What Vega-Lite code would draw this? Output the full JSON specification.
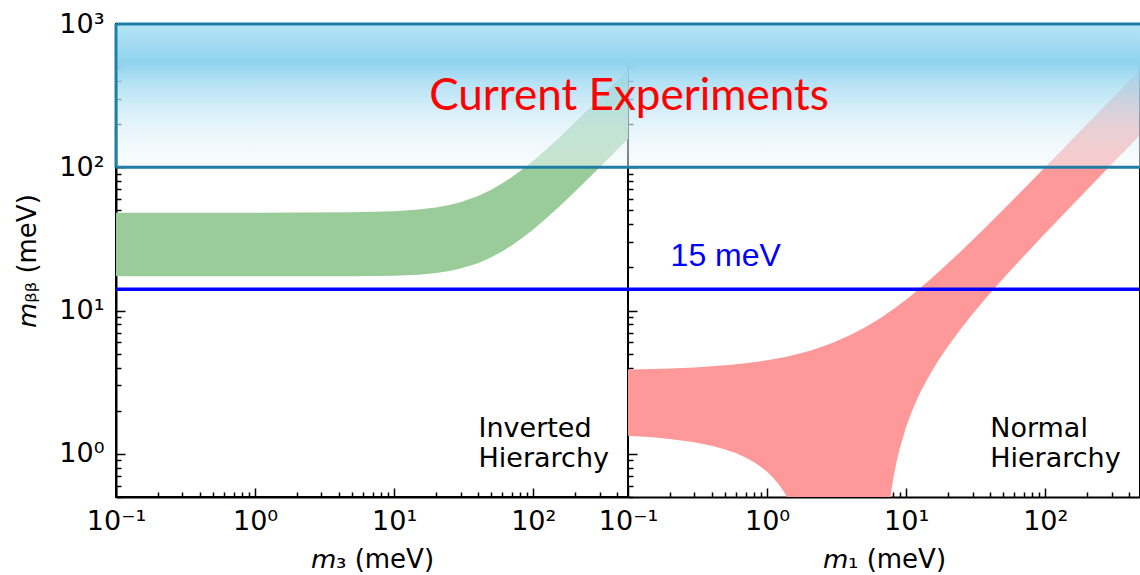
{
  "$schema": "https://vega.github.io/schema/vega-lite/v6.json",
  "padding": {"left": 13, "top": 9, "right": 0, "bottom": 0},
  "spacing": 0,
  "bounds": "flush",
  "config": {
    "view": {"stroke": "black", "strokeWidth": 2},
    "axis": {
      "labelFont": "DejaVu Sans", "labelFontSize": 27, "labelColor": "black",
      "titleFont": "DejaVu Sans", "titleFontSize": 26, "titleFontWeight": "normal", "titleColor": "black",
      "domainColor": "black", "domainWidth": 2, "tickColor": "black", "tickWidth": 1.5,
      "grid": false, "labelOverlap": false, "labelFlush": false, "labelBound": false
    }
  },
  "datasets": {
    "ih": [
      {"m3": 0.1, "lo": 17.39, "hi": 48.21},
      {"m3": 1, "lo": 17.37, "hi": 48.25},
      {"m3": 5, "lo": 17.36, "hi": 48.58},
      {"m3": 10, "lo": 17.5, "hi": 49.43},
      {"m3": 15, "lo": 17.81, "hi": 50.75},
      {"m3": 20, "lo": 18.28, "hi": 52.5},
      {"m3": 25, "lo": 18.89, "hi": 54.64},
      {"m3": 30, "lo": 19.63, "hi": 57.13},
      {"m3": 40, "lo": 21.41, "hi": 63.0},
      {"m3": 50, "lo": 23.54, "hi": 69.8},
      {"m3": 60, "lo": 25.92, "hi": 77.29},
      {"m3": 70, "lo": 28.48, "hi": 85.3},
      {"m3": 80, "lo": 31.18, "hi": 93.69},
      {"m3": 100, "lo": 36.86, "hi": 111.26},
      {"m3": 120, "lo": 42.8, "hi": 129.54},
      {"m3": 150, "lo": 51.99, "hi": 157.73},
      {"m3": 200, "lo": 67.72, "hi": 205.87},
      {"m3": 250, "lo": 83.7, "hi": 254.71},
      {"m3": 300, "lo": 99.82, "hi": 303.94},
      {"m3": 400, "lo": 132.27, "hi": 402.97},
      {"m3": 480, "lo": 158.33, "hi": 482.47}
    ],
    "nh": [
      {"m1": 0.1, "lo": 1.339, "hi": 3.874},
      {"m1": 0.15, "lo": 1.306, "hi": 3.908},
      {"m1": 0.2, "lo": 1.272, "hi": 3.942},
      {"m1": 0.3, "lo": 1.206, "hi": 4.011},
      {"m1": 0.4, "lo": 1.14, "hi": 4.08},
      {"m1": 0.5, "lo": 1.074, "hi": 4.149},
      {"m1": 0.6, "lo": 1.008, "hi": 4.218},
      {"m1": 0.7, "lo": 0.943, "hi": 4.288},
      {"m1": 0.8, "lo": 0.878, "hi": 4.358},
      {"m1": 0.9, "lo": 0.813, "hi": 4.428},
      {"m1": 1.0, "lo": 0.749, "hi": 4.499},
      {"m1": 1.1, "lo": 0.685, "hi": 4.57},
      {"m1": 1.2, "lo": 0.622, "hi": 4.642},
      {"m1": 1.3, "lo": 0.558, "hi": 4.714},
      {"m1": 1.4, "lo": 0.495, "hi": 4.786},
      {"m1": 1.5, "lo": 0.433, "hi": 4.859},
      {"m1": 1.6, "lo": 0.37, "hi": 4.932},
      {"m1": 1.8, "lo": 0.247, "hi": 5.078},
      {"m1": 2, "lo": 0.124, "hi": 5.226},
      {"m1": 2.2, "lo": 0.1, "hi": 5.376},
      {"m1": 3, "lo": 0.1, "hi": 5.986},
      {"m1": 4, "lo": 0.1, "hi": 6.775},
      {"m1": 5, "lo": 0.1, "hi": 7.591},
      {"m1": 6, "lo": 0.1, "hi": 8.43},
      {"m1": 6.5, "lo": 0.1, "hi": 8.857},
      {"m1": 7, "lo": 0.161, "hi": 9.289},
      {"m1": 7.3, "lo": 0.306, "hi": 9.55},
      {"m1": 7.5, "lo": 0.401, "hi": 9.724},
      {"m1": 7.7, "lo": 0.495, "hi": 9.9},
      {"m1": 8, "lo": 0.636, "hi": 10.164},
      {"m1": 8.5, "lo": 0.868, "hi": 10.607},
      {"m1": 9, "lo": 1.096, "hi": 11.054},
      {"m1": 10, "lo": 1.544, "hi": 11.956},
      {"m1": 11, "lo": 1.982, "hi": 12.868},
      {"m1": 12, "lo": 2.412, "hi": 13.789},
      {"m1": 13, "lo": 2.833, "hi": 14.717},
      {"m1": 15, "lo": 3.659, "hi": 16.591},
      {"m1": 17, "lo": 4.465, "hi": 18.485},
      {"m1": 20, "lo": 5.648, "hi": 21.352},
      {"m1": 25, "lo": 7.57, "hi": 26.18},
      {"m1": 30, "lo": 9.452, "hi": 31.048},
      {"m1": 35, "lo": 11.307, "hi": 35.943},
      {"m1": 40, "lo": 13.144, "hi": 40.856},
      {"m1": 50, "lo": 16.779, "hi": 50.721},
      {"m1": 60, "lo": 20.379, "hi": 60.62},
      {"m1": 70, "lo": 23.955, "hi": 70.546},
      {"m1": 100, "lo": 34.605, "hi": 100.4},
      {"m1": 150, "lo": 52.23, "hi": 150.27},
      {"m1": 200, "lo": 69.8, "hi": 200.2},
      {"m1": 300, "lo": 104.86, "hi": 300.14},
      {"m1": 400, "lo": 139.9, "hi": 400.1},
      {"m1": 480, "lo": 167.92, "hi": 480.08}
    ],
    "limit": [{"mbb": 14.1}],
    "band": [{"lo": 100, "hi": 1000}],
    "edges": [{"mbb": 100}, {"mbb": 1000}],
    "spine": [{"m": 480}],
    "ihlabel": [{"m": 40.4, "mbb": 1.312, "label": "Inverted\nHierarchy"}],
    "nhlabel": [{"m": 40.2, "mbb": 1.312, "label": "Normal\nHierarchy"}],
    "explabel": [{"m": 0.1017, "mbb": 251, "label": "Current Experiments"}],
    "limlabel": [{"m": 0.2025, "mbb": 20.5, "label": "15 meV"}]
  },
  "hconcat": [
    {
      "width": 512,
      "height": 473,
      "layer": [
        {
          "data": {"name": "ih"},
          "mark": {"type": "area", "color": "#99cc99", "opacity": 1, "clip": true},
          "encoding": {
            "x": {
              "field": "m3", "type": "quantitative",
              "scale": {"type": "log", "domain": [0.1, 480], "nice": false},
              "axis": {
                "title": "𝘮₃ (meV)",
                "values": [0.1,0.2,0.3,0.4,0.5,0.6,0.7,0.8,0.9,1,2,3,4,5,6,7,8,9,10,20,30,40,50,60,70,80,90,100,200,300,400],
                "labelExpr": "datum.value == 0.1 ? '10⁻¹' : datum.value == 1 ? '10⁰' : datum.value == 10 ? '10¹' : datum.value == 100 ? '10²' : ''",
                "tickSize": {"condition": {"test": "indexof([0.1,1,10,100], datum.value) >= 0", "value": -9}, "value": -5},
                "labelPadding": 20,
                "titlePadding": 8
              }
            },
            "y": {
              "field": "hi", "type": "quantitative",
              "scale": {"type": "log", "domain": [0.5, 1000], "nice": false},
              "axis": {
                "title": "𝘮ᵦᵦ (meV)",
                "values": [0.5,0.6,0.7,0.8,0.9,1,2,3,4,5,6,7,8,9,10,20,30,40,50,60,70,80,90,100,200,300,400,500,600,700,800,900,1000],
                "labelExpr": "datum.value == 1 ? '10⁰' : datum.value == 10 ? '10¹' : datum.value == 100 ? '10²' : datum.value == 1000 ? '10³' : ''",
                "tickSize": {"condition": {"test": "indexof([1,10,100,1000], datum.value) >= 0", "value": -9}, "value": -5},
                "labelPadding": 21,
                "titlePadding": 18
              }
            },
            "y2": {"field": "lo"}
          }
        },
        {
          "data": {"name": "limit"},
          "mark": {"type": "rule", "color": "#0000ff", "strokeWidth": 3.5},
          "encoding": {"y": {"field": "mbb", "type": "quantitative"}}
        },
        {
          "data": {"name": "band"},
          "mark": {
            "type": "rect",
            "fill": {"gradient": "linear", "x1": 0, "y1": 0, "x2": 0, "y2": 1, "stops": [
              {"offset": 0, "color": "rgba(183,228,246,1)"},
              {"offset": 0.27, "color": "rgba(143,211,238,1)"},
              {"offset": 0.4, "color": "rgba(165,220,242,0.85)"},
              {"offset": 0.7, "color": "rgba(214,238,248,0.65)"},
              {"offset": 1, "color": "rgba(244,250,253,0.5)"}
            ]}
          },
          "encoding": {
            "x": {"value": 0}, "x2": {"value": "width"},
            "y": {"field": "hi", "type": "quantitative"}, "y2": {"field": "lo"}
          }
        },
        {
          "data": {"name": "edges"},
          "mark": {"type": "rule", "color": "#1e7ea6", "strokeWidth": 3},
          "encoding": {"y": {"field": "mbb", "type": "quantitative"}}
        },
        {
          "data": {"name": "band"},
          "mark": {"type": "rule", "color": "#1e7ea6", "strokeWidth": 3},
          "encoding": {
            "x": {"value": 0},
            "y": {"field": "hi", "type": "quantitative"}, "y2": {"field": "lo"}
          }
        },
        {
          "data": {"name": "ihlabel"},
          "mark": {"type": "text", "align": "left", "baseline": "alphabetic", "font": "DejaVu Sans", "fontSize": 27, "lineBreak": "\n", "lineHeight": 30, "color": "black"},
          "encoding": {
            "x": {"field": "m", "type": "quantitative"},
            "y": {"field": "mbb", "type": "quantitative"},
            "text": {"field": "label"}
          }
        }
      ]
    },
    {
      "width": 512,
      "height": 473,
      "view": {"stroke": null},
      "layer": [
        {
          "data": {"name": "nh"},
          "mark": {"type": "area", "color": "#ff9999", "opacity": 1, "clip": true},
          "encoding": {
            "x": {
              "field": "m1", "type": "quantitative",
              "scale": {"type": "log", "domain": [0.1, 480], "nice": false},
              "axis": {
                "title": "𝘮₁ (meV)",
                "values": [0.1,0.2,0.3,0.4,0.5,0.6,0.7,0.8,0.9,1,2,3,4,5,6,7,8,9,10,20,30,40,50,60,70,80,90,100,200,300,400],
                "labelExpr": "datum.value == 0.1 ? '10⁻¹' : datum.value == 1 ? '10⁰' : datum.value == 10 ? '10¹' : datum.value == 100 ? '10²' : ''",
                "tickSize": {"condition": {"test": "indexof([0.1,1,10,100], datum.value) >= 0", "value": -9}, "value": -5},
                "labelPadding": 20,
                "titlePadding": 8
              }
            },
            "y": {
              "field": "hi", "type": "quantitative",
              "scale": {"type": "log", "domain": [0.5, 1000], "nice": false},
              "axis": {
                "title": null,
                "labels": false,
                "domain": false,
                "values": [0.5,0.6,0.7,0.8,0.9,1,2,3,4,5,6,7,8,9,10,20,30,40,50,60,70,80,90,100,200,300,400,500,600,700,800,900,1000],
                "tickSize": {"condition": {"test": "indexof([1,10,100,1000], datum.value) >= 0", "value": -9}, "value": -5}
              }
            },
            "y2": {"field": "lo"}
          }
        },
        {
          "data": {"name": "limit"},
          "mark": {"type": "rule", "color": "#0000ff", "strokeWidth": 3.5},
          "encoding": {"y": {"field": "mbb", "type": "quantitative"}}
        },
        {
          "data": {"name": "spine"},
          "mark": {"type": "rule", "color": "black", "strokeWidth": 2},
          "encoding": {"x": {"field": "m", "type": "quantitative"}}
        },
        {
          "data": {"name": "band"},
          "mark": {
            "type": "rect",
            "fill": {"gradient": "linear", "x1": 0, "y1": 0, "x2": 0, "y2": 1, "stops": [
              {"offset": 0, "color": "rgba(183,228,246,1)"},
              {"offset": 0.27, "color": "rgba(143,211,238,1)"},
              {"offset": 0.4, "color": "rgba(165,220,242,0.85)"},
              {"offset": 0.7, "color": "rgba(214,238,248,0.65)"},
              {"offset": 1, "color": "rgba(244,250,253,0.5)"}
            ]}
          },
          "encoding": {
            "x": {"value": 0}, "x2": {"value": "width"},
            "y": {"field": "hi", "type": "quantitative"}, "y2": {"field": "lo"}
          }
        },
        {
          "data": {"name": "edges"},
          "mark": {"type": "rule", "color": "#1e7ea6", "strokeWidth": 3},
          "encoding": {"y": {"field": "mbb", "type": "quantitative"}}
        },
        {
          "data": {"name": "explabel"},
          "mark": {"type": "text", "align": "center", "baseline": "alphabetic", "font": "Lato", "fontSize": 44, "color": "#ff0000"},
          "encoding": {
            "x": {"field": "m", "type": "quantitative"},
            "y": {"field": "mbb", "type": "quantitative"},
            "text": {"field": "label"}
          }
        },
        {
          "data": {"name": "limlabel"},
          "mark": {"type": "text", "align": "left", "baseline": "alphabetic", "font": "Liberation Sans", "fontSize": 32, "color": "#0000ff"},
          "encoding": {
            "x": {"field": "m", "type": "quantitative"},
            "y": {"field": "mbb", "type": "quantitative"},
            "text": {"field": "label"}
          }
        },
        {
          "data": {"name": "nhlabel"},
          "mark": {"type": "text", "align": "left", "baseline": "alphabetic", "font": "DejaVu Sans", "fontSize": 27, "lineBreak": "\n", "lineHeight": 30, "color": "black"},
          "encoding": {
            "x": {"field": "m", "type": "quantitative"},
            "y": {"field": "mbb", "type": "quantitative"},
            "text": {"field": "label"}
          }
        }
      ]
    }
  ]
}
